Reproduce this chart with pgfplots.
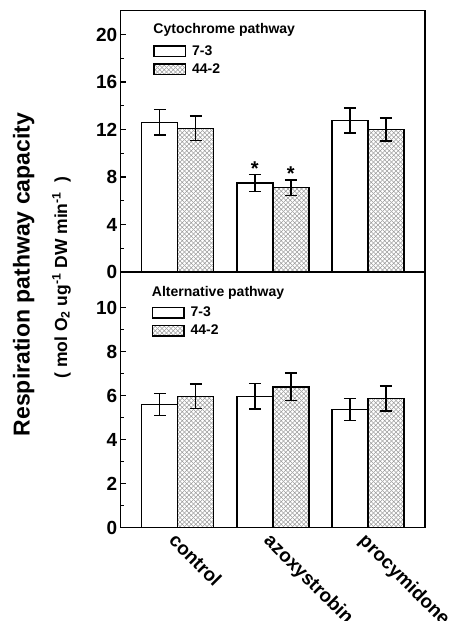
\documentclass[border=0pt]{standalone}
\usepackage{pgfplots}
\pgfplotsset{compat=1.18}
\usepackage{fontspec}
\setmainfont{Liberation Sans}
\usetikzlibrary{patterns}

\pgfdeclarepatternformonly{diagcross}{\pgfpoint{-1pt}{-1pt}}{\pgfpoint{5.5pt}{5.5pt}}{\pgfpoint{4.5pt}{4.5pt}}{
  \pgfsetlinewidth{0.6pt}
  \pgfpathmoveto{\pgfpoint{0pt}{0pt}}\pgfpathlineto{\pgfpoint{4.5pt}{4.5pt}}
  \pgfpathmoveto{\pgfpoint{0pt}{4.5pt}}\pgfpathlineto{\pgfpoint{4.5pt}{0pt}}
  \pgfusepath{stroke}}

\pgfplotstableread{
x   y     e    lab
0   12.6  1.07 {}
1   7.5   0.70 {*}
2   12.75 1.05 {}
}\cytA
\pgfplotstableread{
x   y     e    lab
0   12.1  1.03 {}
1   7.1   0.65 {*}
2   12.0  0.97 {}
}\cytB
\pgfplotstableread{
x   y     e
0   5.6   0.51
1   5.97  0.58
2   5.37  0.50
}\altA
\pgfplotstableread{
x   y     e
0   5.97  0.56
1   6.4   0.63
2   5.87  0.57
}\altB

\pgfplotsset{
  common/.style={
    scale only axis,
    width=304.3pt,
    xmin=-0.6, xmax=2.6,
    ymin=0,
    ybar=0pt, bar width=36pt,
    axis line style={line width=1.2pt},
    tick align=inside,
    ytick pos=left,
    major tick length=5pt,
    minor tick length=3pt,
    every tick/.style={line width=1.1pt, black},
    yticklabel style={font=\bfseries\fontsize{19}{19}\selectfont},
    /pgf/number format/assume math mode=true,
    legend style={draw=none, fill=none, inner sep=0pt, outer sep=0pt,
      anchor=north west, row sep=6pt,
      font=\bfseries\fontsize{14}{14}\selectfont,
      nodes={inner ysep=0pt, inner xsep=6pt}},
    legend cell align=left,
    error bars/y dir=both, error bars/y explicit,
    error bars/error bar style={line width=1.4pt, black},
    error bars/error mark options={rotate=90, mark size=6pt, line width=1.4pt, black},
  },
  barA/.style={draw=black, fill=white, line width=1.4pt,
    legend image code/.code={\draw[draw=black, fill=white, line width=1.4pt] (0pt,-5.3pt) rectangle (31.5pt,5.3pt);}},
  barB/.style={draw=black, line width=1.4pt, pattern=diagcross, pattern color=black!38,
    legend image code/.code={\draw[draw=black, line width=1.4pt, pattern=diagcross, pattern color=black!38] (0pt,-5.3pt) rectangle (31.5pt,5.3pt);}},
}

\begin{document}
\begin{tikzpicture}
% upper panel
\begin{axis}[common,
  at={(120.7pt,349pt)}, anchor=south west,
  height=261.25pt, ymax=22,
  ytick={0,4,...,20}, minor y tick num=1,
  xtick=\empty,
  legend style={at={(0.107,0.868)}},
  nodes near coords, point meta=explicit symbolic,
  nodes near coords style={font=\bfseries\fontsize{20}{20}\selectfont, anchor=base, inner sep=0pt, yshift=7pt},
]
\addplot[barA] table[x=x, y=y, y error=e, meta=lab] {\cytA};
\addplot[barB] table[x=x, y=y, y error=e, meta=lab] {\cytB};
\legend{7-3,44-2}
\node[anchor=base west, inner sep=0pt, font=\bfseries\fontsize{14}{14}\selectfont] at (rel axis cs:0.107,0.912) {Cytochrome pathway};
\end{axis}
% lower panel
\begin{axis}[common,
  at={(120.7pt,93.3pt)}, anchor=south west,
  height=255.7pt, ymax=11.62,
  ytick={0,2,...,10}, minor y tick num=1,
  xtick={0,1,2}, xticklabels={control,azoxystrobin,procymidone},
  x tick style={draw=none},
  xticklabel style={font=\bfseries\fontsize{19}{19}\selectfont, rotate=-45, anchor=north west, inner sep=3pt},
  legend style={at={(0.102,0.864)}},
]
\addplot[barA] table[x=x, y=y, y error=e] {\altA};
\addplot[barB] table[x=x, y=y, y error=e] {\altB};
\legend{7-3,44-2}
\node[anchor=base west, inner sep=0pt, font=\bfseries\fontsize{14}{14}\selectfont] at (rel axis cs:0.102,0.903) {Alternative pathway};
\end{axis}
% y label
\node[rotate=90, anchor=base, inner sep=0pt, font=\bfseries\fontsize{23}{23}\selectfont] at (29.5pt,346.5pt) {Respiration pathway capacity};
\node[rotate=90, anchor=base, inner sep=0pt, font=\bfseries\fontsize{17.5}{17.5}\selectfont] at (67pt,343.5pt) {(\ mol O\textsubscript{2} ug\textsuperscript{-1} DW min\textsuperscript{-1}\ \ )};
\pgfresetboundingbox
\path (0pt,0pt) rectangle (451pt,621pt);
\end{tikzpicture}
\end{document}
